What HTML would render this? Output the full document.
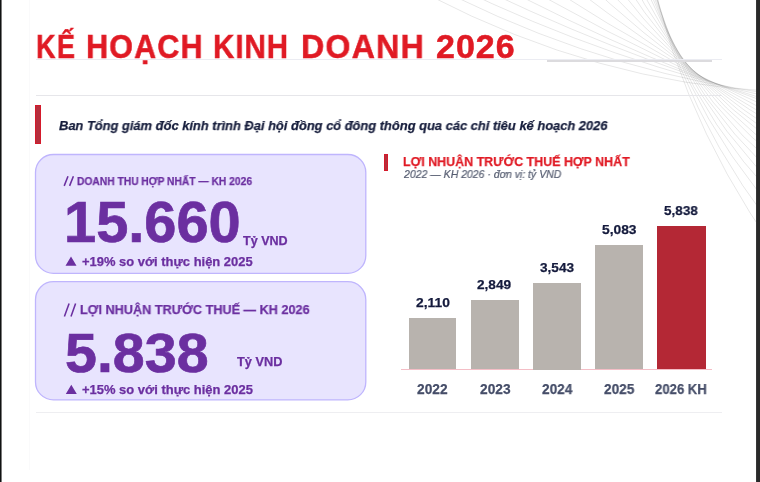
<!DOCTYPE html>
<html lang="vi"><head><meta charset="utf-8"><title>Kế hoạch kinh doanh 2026</title>
<style>
html,body{margin:0;padding:0;background:#fff}
body{width:760px;height:482px;position:relative;overflow:hidden;font-family:"Liberation Sans", sans-serif}
.t{position:absolute;white-space:nowrap;line-height:1;transform-origin:0 0;will-change:transform}
.card{position:absolute;left:35px;width:331.5px;box-sizing:border-box;background:#E8E4FE;border:1.4px solid #C0B6FC;border-radius:18.5px}
.hr{position:absolute;left:36px;width:686px;height:1px;background:#E6E6EA}
</style></head><body>
<div style="position:absolute;left:0;top:0;width:1px;height:482px;background:#101212"></div><div style="position:absolute;left:1px;top:0;width:1px;height:482px;background:#7A7A7A"></div>
<div style="position:absolute;left:756px;top:0;width:4px;height:482px;background:#292929"></div><div style="position:absolute;left:756px;top:0;width:1px;height:482px;background:#363636"></div>
<div style="position:absolute;left:28.6px;top:0;width:1.8px;height:470px;background:#FAFAFB"></div>
<svg style="position:absolute;left:0;top:0" width="756" height="482" viewBox="0 0 756 482"><path d="M-105.6,-499.1 Q534.2,367.7 1264.9,-36.2 M-83.9,-466.7 Q496.7,274.8 1246.6,51.0 M-76.1,-416.6 Q489.4,187.3 1228.6,127.6 M-72.9,-393.0 Q491.5,127.3 1210.9,182.7 M-53.3,-430.7 Q486.1,115.4 1202.1,204.4 M-40.7,-443.0 Q489.6,78.8 1184.0,244.5 M-9.8,-491.6 Q486.3,62.9 1168.7,272.5 M69.5,-608.9 Q460.0,84.1 1164.2,279.7 M182.1,-748.4 Q417.1,121.2 1169.0,276.1 M286.6,-846.0 Q382.5,134.3 1167.0,285.2 M431.5,-962.9 Q328.9,158.4 1173.6,287.2 M586.0,-1063.2 Q270.9,176.8 1182.6,289.8 M722.1,-1122.1 Q225.8,172.7 1182.5,303.1 M860.3,-1168.2 Q179.6,164.9 1183.4,315.5 M975.5,-1179.5 Q150.4,135.8 1171.3,337.5 M1001.9,-1148.2 Q163.4,91.7 1141.3,363.9 M1020.8,-1119.4 Q179.1,50.7 1110.7,385.8 M1088.5,-1105.0 Q175.2,10.1 1083.9,402.9 M1057.5,-1067.9 Q215.8,-34.7 1040.6,420.0 M1029.6,-1037.5 Q258.1,-83.0 991.8,432.0 M991.6,-1017.0 Q301.9,-127.0 944.6,436.1" fill="none" stroke="#000" stroke-opacity="0.105" stroke-width="0.9"/></svg>
<div class="hr" style="top:59px;background:#EBECF2"></div>
<div style="position:absolute;left:547px;top:60px;width:165px;height:1.7px;background:#DCDBDE"></div>
<div class="hr" style="top:94.5px"></div>
<div class="hr" style="top:411.8px;background:#EEEEF1"></div>
<div style="position:absolute;left:35px;top:104.7px;width:6.1px;height:39.6px;box-sizing:border-box;background:#B52F3D;border:1.1px solid #D41A2B"></div>
<svg style="position:absolute;left:0;top:0" width="756" height="482" viewBox="0 0 756 482"><rect x="35.5" y="154.5" width="330.3" height="118.9" rx="18" ry="18" fill="#E8E4FE" stroke="#BFB5FD" stroke-width="1.3"/><rect x="35.5" y="281.7" width="330.3" height="118.2" rx="18" ry="18" fill="#E8E4FE" stroke="#BFB5FD" stroke-width="1.3"/></svg>
<div style="position:absolute;left:383.8px;top:153.8px;width:4.5px;height:17px;box-sizing:border-box;background:#B52F3D;border:1px solid #D41A2B"></div>
<div style="position:absolute;left:400.5px;top:369.3px;width:311.5px;height:1px;background:#F4BEC6"></div>
<div style="position:absolute;left:408.6px;top:318.1px;width:47.8px;height:51.4px;background:#B8B3AE"></div><div style="position:absolute;left:471.1px;top:299.9px;width:47.6px;height:69.6px;background:#B8B3AE"></div><div style="position:absolute;left:533.0px;top:282.5px;width:47.8px;height:87.0px;background:#B8B3AE"></div><div style="position:absolute;left:595.3px;top:244.9px;width:47.9px;height:124.6px;background:#B8B3AE"></div><div style="position:absolute;left:657.4px;top:225.9px;width:48.3px;height:143.6px;background:#B42835"></div>
<svg style="position:absolute;left:0;top:0" width="756" height="482" viewBox="0 0 756 482"><path d="M65.5,265.8 L71,256.6 L76.5,265.8 Z M65.8,393.9 L71.3,384.8 L76.8,393.9 Z" fill="#6B2FA0"/><path d="M64.2,185.9 L68.0,176.2 M69.6,185.9 L73.4,176.2 M64.4,316.4 L69.1,303.5 M71.0,316.4 L75.6,303.5" stroke="#6B2FA0" stroke-width="1.55" fill="none"/></svg>
<div class="t" id="title1" style="left:36.30px;top:29px;font-size:33.99px;color:#E01A24;font-weight:bold;font-style:normal;-webkit-text-stroke:0.5px #E01A24;letter-spacing:1.813px;transform:scaleX(0.7988)">KẾ</div>
<div class="t" id="title2" style="left:86.46px;top:29px;font-size:33.99px;color:#E01A24;font-weight:bold;font-style:normal;-webkit-text-stroke:0.5px #E01A24;letter-spacing:1.250px;transform:scaleX(0.8993)">HOẠCH</div>
<div class="t" id="title3" style="left:213.33px;top:29px;font-size:33.99px;color:#E01A24;font-weight:bold;font-style:normal;-webkit-text-stroke:0.5px #E01A24;letter-spacing:1.091px;transform:scaleX(0.8693)">KINH</div>
<div class="t" id="title4" style="left:301.35px;top:29px;font-size:33.99px;color:#E01A24;font-weight:bold;font-style:normal;-webkit-text-stroke:0.5px #E01A24;letter-spacing:1.250px;transform:scaleX(0.9473)">DOANH</div>
<div class="t" id="title5" style="left:436.49px;top:29px;font-size:33.99px;color:#E01A24;font-weight:bold;font-style:normal;-webkit-text-stroke:0.5px #E01A24;letter-spacing:1.020px;transform:scaleX(0.9951)">2026</div>
<div class="t" id="sub" style="left:58.54px;top:119px;font-size:13.01px;color:#151C3B;font-weight:bold;font-style:italic;-webkit-text-stroke:0.25px #151C3B;letter-spacing:0.000px;transform:scaleX(0.9914)">Ban Tổng giám đốc kính trình Đại hội đồng cổ đông thông qua các chỉ tiêu kế hoạch 2026</div>
<div class="t" id="lab1" style="left:76.98px;top:176px;font-size:10.69px;color:#6B2FA0;font-weight:bold;font-style:normal;-webkit-text-stroke:0.25px #6B2FA0;letter-spacing:0.000px;transform:scaleX(0.9597)">DOANH THU HỢP NHẤT — KH 2026</div>
<div class="t" id="big1" style="left:63.93px;top:195px;font-size:56.74px;color:#6B2FA0;font-weight:bold;font-style:normal;-webkit-text-stroke:0.7px #6B2FA0;letter-spacing:0.000px;transform:scaleX(1.0182)">15.660</div>
<div class="t" id="unit1" style="left:242.87px;top:235px;font-size:12.14px;color:#6B2FA0;font-weight:bold;font-style:normal;-webkit-text-stroke:0.25px #6B2FA0;letter-spacing:0.000px;transform:scaleX(1.0355)">Tỷ VND</div>
<div class="t" id="gr1" style="left:81.88px;top:256px;font-size:12.14px;color:#6B2FA0;font-weight:bold;font-style:normal;-webkit-text-stroke:0.25px #6B2FA0;letter-spacing:0.000px;transform:scaleX(1.0667)">+19% so với thực hiện 2025</div>
<div class="t" id="lab2" style="left:79.81px;top:303px;font-size:13.15px;color:#6B2FA0;font-weight:bold;font-style:normal;-webkit-text-stroke:0.25px #6B2FA0;letter-spacing:0.000px;transform:scaleX(0.9628)">LỢI NHUẬN TRƯỚC THUẾ — KH 2026</div>
<div class="t" id="big2" style="left:64.68px;top:326px;font-size:55.58px;color:#6B2FA0;font-weight:bold;font-style:normal;-webkit-text-stroke:0.7px #6B2FA0;letter-spacing:0.000px;transform:scaleX(1.0323)">5.838</div>
<div class="t" id="unit2" style="left:237.07px;top:356px;font-size:12.14px;color:#6B2FA0;font-weight:bold;font-style:normal;-webkit-text-stroke:0.25px #6B2FA0;letter-spacing:0.000px;transform:scaleX(1.0520)">Tỷ VND</div>
<div class="t" id="gr2" style="left:81.88px;top:384px;font-size:12.14px;color:#6B2FA0;font-weight:bold;font-style:normal;-webkit-text-stroke:0.25px #6B2FA0;letter-spacing:0.000px;transform:scaleX(1.0686)">+15% so với thực hiện 2025</div>
<div class="t" id="ct" style="left:403.13px;top:155px;font-size:13.44px;color:#E01A24;font-weight:bold;font-style:normal;-webkit-text-stroke:0.25px #E01A24;letter-spacing:0.000px;transform:scaleX(0.9268)">LỢI NHUẬN TRƯỚC THUẾ HỢP NHẤT</div>
<div class="t" id="cs" style="left:404.00px;top:169px;font-size:10.72px;color:#555C70;font-weight:normal;font-style:italic;-webkit-text-stroke:0.2px #555C70;letter-spacing:0.000px;transform:scaleX(0.9783)">2022 — KH 2026 · đơn vị: tỷ VND</div>
<div class="t" id="v1" style="left:415.78px;top:296px;font-size:13.59px;color:#141A3C;font-weight:bold;font-style:normal;-webkit-text-stroke:0.25px #141A3C;letter-spacing:0.000px;transform:scaleX(1.0184)">2,110</div>
<div class="t" id="v2" style="left:477.49px;top:278px;font-size:13.59px;color:#141A3C;font-weight:bold;font-style:normal;-webkit-text-stroke:0.25px #141A3C;letter-spacing:0.000px;transform:scaleX(1.0042)">2,849</div>
<div class="t" id="v3" style="left:539.93px;top:261px;font-size:13.59px;color:#141A3C;font-weight:bold;font-style:normal;-webkit-text-stroke:0.25px #141A3C;letter-spacing:0.000px;transform:scaleX(1.0001)">3,543</div>
<div class="t" id="v4" style="left:601.69px;top:223px;font-size:13.59px;color:#141A3C;font-weight:bold;font-style:normal;-webkit-text-stroke:0.25px #141A3C;letter-spacing:0.000px;transform:scaleX(1.0163)">5,083</div>
<div class="t" id="v5" style="left:664.20px;top:204px;font-size:13.59px;color:#141A3C;font-weight:bold;font-style:normal;-webkit-text-stroke:0.25px #141A3C;letter-spacing:0.000px;transform:scaleX(0.9922)">5,838</div>
<div class="t" id="y1" style="left:417.29px;top:383px;font-size:13.73px;color:#464E69;font-weight:bold;font-style:normal;-webkit-text-stroke:0.25px #464E69;letter-spacing:0.000px;transform:scaleX(0.9993)">2022</div>
<div class="t" id="y2" style="left:479.59px;top:383px;font-size:13.73px;color:#464E69;font-weight:bold;font-style:normal;-webkit-text-stroke:0.25px #464E69;letter-spacing:0.000px;transform:scaleX(0.9981)">2023</div>
<div class="t" id="y3" style="left:541.59px;top:383px;font-size:13.73px;color:#464E69;font-weight:bold;font-style:normal;-webkit-text-stroke:0.25px #464E69;letter-spacing:0.000px;transform:scaleX(0.9911)">2024</div>
<div class="t" id="y4" style="left:603.79px;top:383px;font-size:13.73px;color:#464E69;font-weight:bold;font-style:normal;-webkit-text-stroke:0.25px #464E69;letter-spacing:0.000px;transform:scaleX(0.9901)">2025</div>
<div class="t" id="y5" style="left:655.41px;top:383px;font-size:13.73px;color:#464E69;font-weight:bold;font-style:normal;-webkit-text-stroke:0.25px #464E69;letter-spacing:0.000px;transform:scaleX(0.9553)">2026 KH</div>
</body></html>
